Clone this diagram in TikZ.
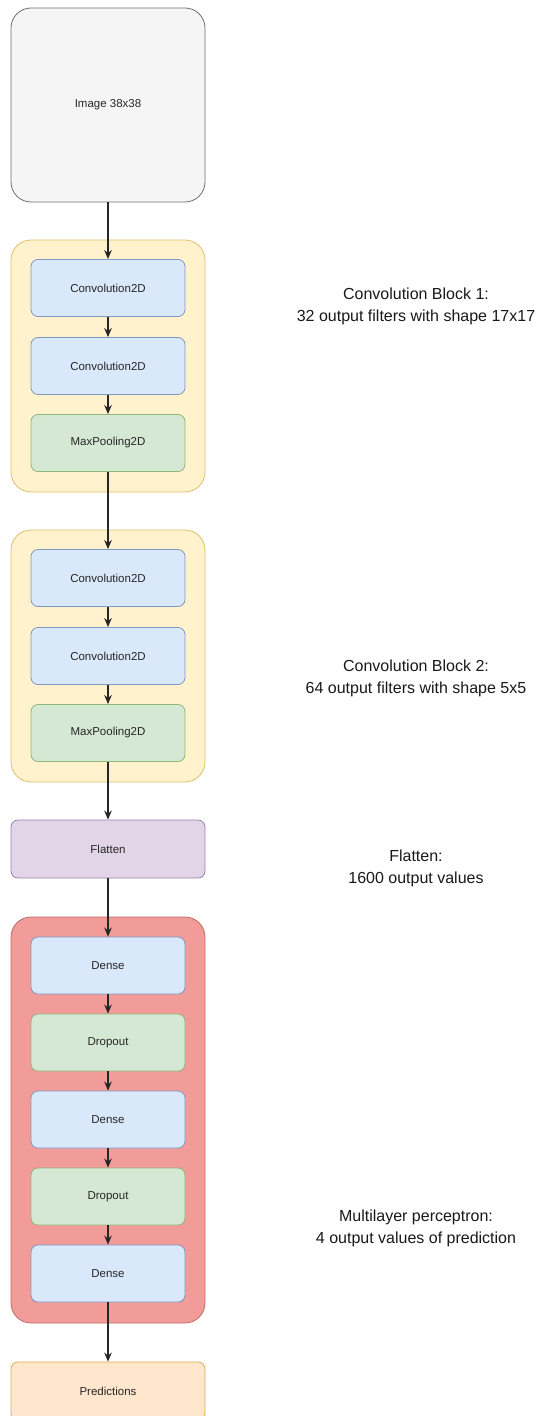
\documentclass[tikz,border=0pt]{standalone}
\usepackage{fontspec}
\setmainfont{Liberation Sans}
\usetikzlibrary{arrows.meta}
\definecolor{ImgBG}{HTML}{F5F5F5}
\definecolor{ImgFrame}{HTML}{707070}
\definecolor{BlkBG}{HTML}{FFF2CC}
\definecolor{BlkFrame}{HTML}{E0C070}
\definecolor{ConvBG}{HTML}{DAE8FC}
\definecolor{ConvFrame}{HTML}{7F98C0}
\definecolor{PoolBG}{HTML}{D5E8D4}
\definecolor{PoolFrame}{HTML}{8DB878}
\definecolor{FlatBG}{HTML}{E1D5E7}
\definecolor{FlatFrame}{HTML}{9C80AC}
\definecolor{MlpBG}{HTML}{F19C99}
\definecolor{MlpFrame}{HTML}{C06A66}
\definecolor{PredBG}{HTML}{FFE6CC}
\definecolor{PredFrame}{HTML}{E0B050}

\begin{document}
\begin{tikzpicture}[x=1pt, y=-1pt,
  every node/.style={font=\fontsize{11.5}{13}\selectfont, text=black!85},
  layer/.style={draw, rounded corners=7pt, line width=0.8pt,
                minimum width=154pt, minimum height=57pt, inner sep=0pt},
  conv/.style={layer, fill=ConvBG, draw=ConvFrame},
  pool/.style={layer, fill=PoolBG, draw=PoolFrame},
  group/.style={draw, rounded corners=20pt, line width=0.8pt,
                minimum width=194pt, inner sep=0pt},
  wide/.style={layer, minimum width=194pt, minimum height=58pt},
  note/.style={align=center, font=\fontsize{16}{22}\selectfont, text=black!90},
  flow/.style={-{Stealth[length=9pt,width=7.5pt]}, line width=1.5pt, black!85},
  >=Stealth]
  \useasboundingbox (0,0) rectangle (548,1416);
  \fill[white] (0,0) rectangle (548,1416);

  % input
  \node[draw=ImgFrame, fill=ImgBG, rounded corners=20pt, line width=0.8pt,
        minimum width=194pt, minimum height=194pt, inner sep=0pt] (img) at (108,105) {Image 38x38};

  % convolution block 1
  \node[group, fill=BlkBG, draw=BlkFrame, minimum height=252pt] (blk1) at (108,366) {};
  \node[conv] (c1a) at (108,288) {Convolution2D};
  \node[conv] (c1b) at (108,366) {Convolution2D};
  \node[pool] (p1)  at (108,443) {MaxPooling2D};

  % convolution block 2
  \node[group, fill=BlkBG, draw=BlkFrame, minimum height=252pt] (blk2) at (108,656) {};
  \node[conv] (c2a) at (108,578) {Convolution2D};
  \node[conv] (c2b) at (108,656) {Convolution2D};
  \node[pool] (p2)  at (108,733) {MaxPooling2D};

  \node[wide, fill=FlatBG, draw=FlatFrame] (flat) at (108,849) {Flatten};

  % multilayer perceptron
  \node[group, fill=MlpBG, draw=MlpFrame, minimum height=406pt] (mlp) at (108,1120) {};
  \node[conv] (d1) at (108,965.5)  {Dense};
  \node[pool] (o1) at (108,1042.5) {Dropout};
  \node[conv] (d2) at (108,1119.5) {Dense};
  \node[pool] (o2) at (108,1196.5) {Dropout};
  \node[conv] (d3) at (108,1273.5) {Dense};

  \node[wide, fill=PredBG, draw=PredFrame] (pred) at (108,1391) {Predictions};

  \foreach \a/\b in {img/c1a, c1a/c1b, c1b/p1, p1/c2a, c2a/c2b, c2b/p2, p2/flat,
                     flat/d1, d1/o1, o1/d2, d2/o2, o2/d3, d3/pred}
    \draw[flow] (\a.south) -- (\b.north);

  % descriptions
  \node[note] (n1) at (416,306) {Convolution Block 1:\\32 output filters with shape 17x17};
  \node[note] (n2) at (416,678) {Convolution Block 2:\\64 output filters with shape 5x5};
  \node[note] (n3) at (416,868) {Flatten:\\1600 output values};
  \node[note] (n4) at (416,1228) {Multilayer perceptron:\\4 output values of prediction};
\end{tikzpicture}
\end{document}
